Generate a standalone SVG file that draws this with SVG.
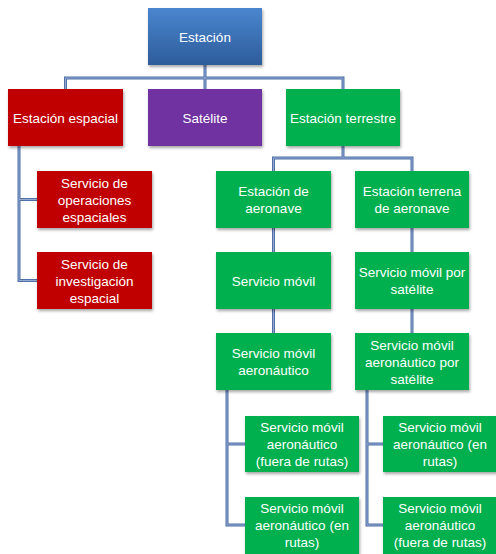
<svg xmlns="http://www.w3.org/2000/svg" width="496" height="554" viewBox="0 0 496 554">
<defs>
<linearGradient id="gBlue" x1="0" y1="0" x2="0" y2="1">
<stop offset="0" stop-color="#4A86CF"/>
<stop offset="1" stop-color="#2D5C9A"/>
</linearGradient>
<filter id="sh" x="-10%" y="-10%" width="125%" height="130%">
<feDropShadow dx="1" dy="2" stdDeviation="1.5" flood-color="#000" flood-opacity="0.35"/>
</filter>
<style>
.box{filter:url(#sh);}
.blue{fill:url(#gBlue);}
.red{fill:#C00000;}
.purple{fill:#7030A0;}
.green{fill:#00B050;}
text{font-family:"Liberation Sans","Open Sans",Arial,sans-serif;font-size:13.5px;fill:#FFFFFF;text-anchor:middle;}
.c1{fill:none;stroke:#4F70A8;stroke-width:3;}
.c2{fill:none;stroke:#A5B8DA;stroke-width:0.8;}
</style>
</defs>
<rect width="496" height="554" fill="#FFFFFF"/>
<g id="connectors">
<path class="c1" d="M205,65V89M65.5,89V78H343V89M343,146V158M273.5,171V158H412V171M19,146V280.5H37M19,199.5H37M273.5,228V252M273.5,309V333M412,228V252M412,309V333M227,390V525H245M227,444H245M367,390V525H383M367,444H383"/>
<path class="c2" d="M205,65V89M65.5,89V78H343V89M343,146V158M273.5,171V158H412V171M19,146V280.5H37M19,199.5H37M273.5,228V252M273.5,309V333M412,228V252M412,309V333M227,390V525H245M227,444H245M367,390V525H383M367,444H383"/>
</g>
<g id="n-estacion"><rect class="box blue" x="148" y="8" width="114" height="57"/><text x="205" y="41.5">Estación</text></g>
<g id="n-espacial"><rect class="box red" x="8" y="89" width="115" height="57"/><text x="65.5" y="122.5">Estación espacial</text></g>
<g id="n-satelite"><rect class="box purple" x="148" y="89" width="114" height="57"/><text x="205" y="122.5">Satélite</text></g>
<g id="n-terrestre"><rect class="box green" x="286" y="89" width="114" height="57"/><text x="343" y="122.5">Estación terrestre</text></g>
<g id="n-operaciones"><rect class="box red" x="37" y="171" width="115" height="57"/><text x="94.5" y="187.5">Servicio de</text><text x="94.5" y="204.5">operaciones</text><text x="94.5" y="221.5">espaciales</text></g>
<g id="n-investigacion"><rect class="box red" x="37" y="252" width="115" height="57"/><text x="94.5" y="268.5">Servicio de</text><text x="94.5" y="285.5">investigación</text><text x="94.5" y="302.5">espacial</text></g>
<g id="n-aeronave"><rect class="box green" x="216" y="171" width="115" height="57"/><text x="273.5" y="196">Estación de</text><text x="273.5" y="213">aeronave</text></g>
<g id="n-terrena"><rect class="box green" x="355" y="171" width="114" height="57"/><text x="412" y="196">Estación terrena</text><text x="412" y="213">de aeronave</text></g>
<g id="n-movil"><rect class="box green" x="216" y="252" width="115" height="57"/><text x="273.5" y="285.5">Servicio móvil</text></g>
<g id="n-movil-sat"><rect class="box green" x="355" y="252" width="114" height="57"/><text x="412" y="277">Servicio móvil por</text><text x="412" y="294">satélite</text></g>
<g id="n-movil-aero"><rect class="box green" x="216" y="333" width="115" height="57"/><text x="273.5" y="358">Servicio móvil</text><text x="273.5" y="375">aeronáutico</text></g>
<g id="n-movil-aero-sat"><rect class="box green" x="355" y="333" width="114" height="57"/><text x="412" y="349.5">Servicio móvil</text><text x="412" y="366.5">aeronáutico por</text><text x="412" y="383.5">satélite</text></g>
<g id="n-l-fuera"><rect class="box green" x="245" y="416" width="114" height="56"/><text x="302" y="432">Servicio móvil</text><text x="302" y="449">aeronáutico</text><text x="302" y="466">(fuera de rutas)</text></g>
<g id="n-l-en"><rect class="box green" x="245" y="497" width="114" height="57"/><text x="302" y="513">Servicio móvil</text><text x="302" y="530">aeronáutico (en</text><text x="302" y="547">rutas)</text></g>
<g id="n-r-en"><rect class="box green" x="383" y="416" width="114" height="56"/><text x="440" y="432">Servicio móvil</text><text x="440" y="449">aeronáutico (en</text><text x="440" y="466">rutas)</text></g>
<g id="n-r-fuera"><rect class="box green" x="383" y="497" width="114" height="57"/><text x="440" y="513">Servicio móvil</text><text x="440" y="530">aeronáutico</text><text x="440" y="547">(fuera de rutas)</text></g>
</svg>
